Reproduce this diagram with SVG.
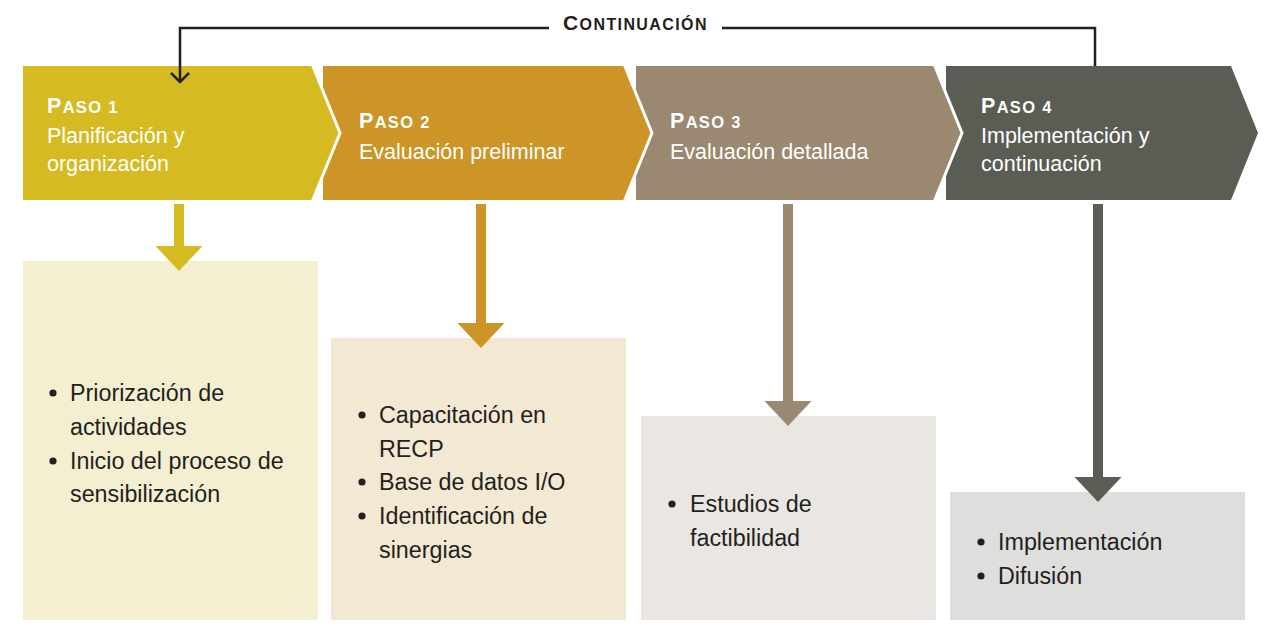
<svg xmlns="http://www.w3.org/2000/svg" width="1271" height="632" viewBox="0 0 1271 632">
<defs>
<style>
.hd{font-family:"Liberation Sans",Arial,sans-serif;font-weight:bold;fill:#ffffff;letter-spacing:1.3px}
.sub{font-family:"Liberation Sans",Arial,sans-serif;font-size:21.5px;fill:#ffffff}
.bl{font-family:"Liberation Sans",Arial,sans-serif;font-size:23.3px;fill:#231f20}
.ct{font-family:"Liberation Sans",Arial,sans-serif;font-weight:bold;fill:#231f20;letter-spacing:1.4px}
.sep{fill:none;stroke:#ffffff;stroke-width:3}
.conn{fill:none;stroke:#231f20;stroke-width:2.5}
.dot{fill:#231f20}
</style>
</defs>
<rect width="1271" height="632" fill="#ffffff"/>

<g id="step4">
  <polygon points="946,66 1231,66 1258,133 1231,200 946,200" fill="#5a5d53"/>
  <text class="hd" x="981" y="113"><tspan font-size="21.5">P</tspan><tspan font-size="16.5">ASO 4</tspan></text>
  <text class="sub" x="981" y="143">Implementación y</text>
  <text class="sub" x="981" y="171">continuación</text>
</g>
<g id="step3">
  <polygon points="636,66 934,66 962,133 934,200 636,200" fill="#9a8870"/>
  <polyline class="sep" points="934,64 962,133 934,202"/>
  <text class="hd" x="670" y="128"><tspan font-size="21.5">P</tspan><tspan font-size="16.5">ASO 3</tspan></text>
  <text class="sub" x="670" y="159">Evaluación detallada</text>
</g>
<g id="step2">
  <polygon points="323,66 624,66 652,133 624,200 323,200" fill="#cd9427"/>
  <polyline class="sep" points="624,64 652,133 624,202"/>
  <text class="hd" x="359" y="128"><tspan font-size="21.5">P</tspan><tspan font-size="16.5">ASO 2</tspan></text>
  <text class="sub" x="359" y="159">Evaluación preliminar</text>
</g>
<g id="step1">
  <polygon points="23,66 312,66 340,133 312,200 23,200" fill="#d6ba21"/>
  <polyline class="sep" points="312,64 340,133 312,202"/>
  <text class="hd" x="47" y="113"><tspan font-size="21.5">P</tspan><tspan font-size="16.5">ASO 1</tspan></text>
  <text class="sub" x="47" y="143">Planificación y</text>
  <text class="sub" x="47" y="171">organización</text>
</g>

<g id="box1">
  <rect x="23" y="261" width="295" height="359" fill="#f5efd2"/>
  <circle class="dot" cx="53" cy="393" r="3.6"/>
  <text class="bl" x="70" y="401">Priorización de</text>
  <text class="bl" x="70" y="435">actividades</text>
  <circle class="dot" cx="53" cy="461" r="3.6"/>
  <text class="bl" x="70" y="469">Inicio del proceso de</text>
  <text class="bl" x="70" y="502">sensibilización</text>
</g>
<g id="box2">
  <rect x="331" y="338" width="295" height="282" fill="#f3e8d3"/>
  <circle class="dot" cx="362" cy="415" r="3.6"/>
  <text class="bl" x="379" y="423">Capacitación en</text>
  <text class="bl" x="379" y="457">RECP</text>
  <circle class="dot" cx="362" cy="482" r="3.6"/>
  <text class="bl" x="379" y="490">Base de datos I/O</text>
  <circle class="dot" cx="362" cy="516" r="3.6"/>
  <text class="bl" x="379" y="524">Identificación de</text>
  <text class="bl" x="379" y="558">sinergias</text>
</g>
<g id="box3">
  <rect x="641" y="416" width="295" height="204" fill="#eae7e2"/>
  <circle class="dot" cx="672" cy="504" r="3.6"/>
  <text class="bl" x="690" y="512">Estudios de</text>
  <text class="bl" x="690" y="546">factibilidad</text>
</g>
<g id="box4">
  <rect x="950" y="492" width="295" height="128" fill="#dededd"/>
  <circle class="dot" cx="981" cy="542" r="3.6"/>
  <text class="bl" x="998" y="550">Implementación</text>
  <circle class="dot" cx="981" cy="576" r="3.6"/>
  <text class="bl" x="998" y="584">Difusión</text>
</g>

<g id="connectors">
  <polyline class="conn" points="549,28 180,28 180,82"/>
  <polyline class="conn" points="171,73 180,82 189,73"/>
  <polyline class="conn" points="722,28 1095,28 1095,66"/>
  <text class="ct" x="563" y="30"><tspan font-size="21">C</tspan><tspan font-size="16">ONTINUACIÓN</tspan></text>
  <g id="arrow1" fill="#d6ba21"><rect x="174" y="204" width="10" height="43"/><polygon points="155.5,246 202.5,246 179,271"/></g>
  <g id="arrow2" fill="#cd9427"><rect x="476" y="204" width="10" height="120"/><polygon points="457.5,323 504.5,323 481,348"/></g>
  <g id="arrow3" fill="#9a8870"><rect x="783" y="204" width="10" height="198"/><polygon points="764.5,401 811.5,401 788,426"/></g>
  <g id="arrow4" fill="#5a5d53"><rect x="1093" y="204" width="10" height="274"/><polygon points="1074.5,477 1121.5,477 1098,502"/></g>
</g>
</svg>
